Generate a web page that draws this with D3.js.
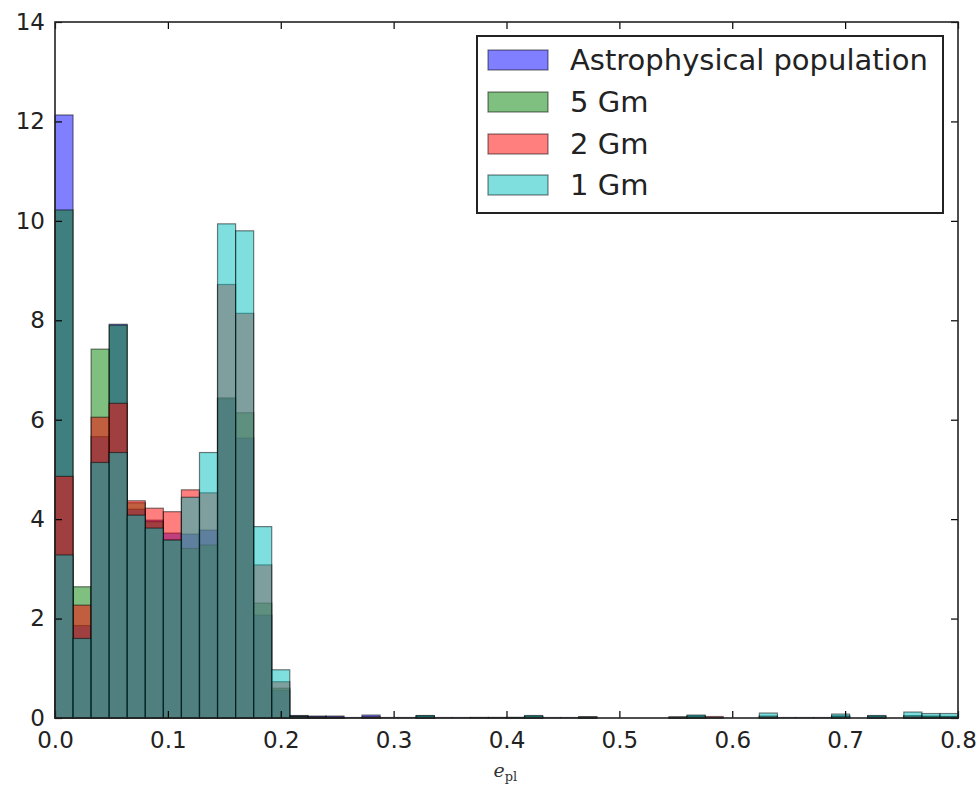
<!DOCTYPE html>
<html>
<head>
<meta charset="utf-8">
<script src="https://cdn.jsdelivr.net/npm/d3@7.9.0/dist/d3.min.js"></script>
<style>
  html, body { margin: 0; padding: 0; background: #fff; }
  svg { display: block; font-family: "DejaVu Sans", sans-serif; }
</style>
</head>
<body>
<svg id="chart" width="978" height="790"></svg>
<script>
// histogram, 50 bins of width 0.016 over [0, 0.8]
const binWidth = 0.016;
const seriesNames = ['Astrophysical population', '5 Gm', '2 Gm', '1 Gm'];
const seriesColors = ['#0000ff', '#008000', '#ff0000', '#00bfbf'];

const astro = [
  12.13, 1.86, 5.66, 7.92, 4.20, 3.98, 3.72, 3.70, 3.78, 6.42,
  5.63, 2.07, 0.56, 0.05, 0.04, 0.04, 0.01, 0.06, 0.01, 0.01,
  0.04, 0.01, 0.01, 0.01, 0.01, 0.01, 0.03, 0.01, 0.01, 0.02,
  0, 0, 0, 0, 0.02, 0.04, 0.01, 0, 0, 0.03,
  0.01, 0.01, 0.01, 0.04, 0, 0.04, 0, 0.04, 0.03, 0.03
];
const gm5 = [
  10.22, 2.64, 7.42, 7.90, 4.33, 3.95, 3.58, 3.41, 3.48, 6.44,
  6.14, 2.31, 0.60, 0.04, 0.02, 0.01, 0, 0.02, 0, 0,
  0.04, 0, 0, 0.01, 0, 0.01, 0.04, 0, 0, 0.02,
  0, 0, 0, 0, 0.01, 0.04, 0, 0, 0, 0.03,
  0, 0, 0, 0.04, 0, 0.03, 0, 0.04, 0.04, 0.03
];
const gm2 = [
  4.86, 2.27, 6.05, 6.33, 4.37, 4.22, 4.15, 4.59, 4.53, 8.72,
  8.14, 3.08, 0.73, 0.03, 0.02, 0.02, 0, 0.02, 0, 0,
  0.03, 0, 0, 0, 0.01, 0, 0.03, 0, 0, 0.01,
  0, 0, 0, 0, 0.01, 0.03, 0.03, 0, 0, 0.04,
  0, 0, 0, 0.03, 0, 0.03, 0, 0.04, 0.03, 0.03
];
const gm1 = [
  3.28, 1.60, 5.14, 5.34, 4.08, 3.82, 3.58, 4.44, 5.34, 9.94,
  9.80, 3.85, 0.97, 0.03, 0.01, 0.01, 0, 0, 0, 0,
  0.05, 0, 0, 0, 0, 0.01, 0.05, 0, 0, 0.02,
  0, 0, 0, 0, 0.02, 0.06, 0, 0, 0, 0.10,
  0, 0, 0, 0.08, 0, 0.05, 0, 0.12, 0.09, 0.09
];
const allSeries = [astro, gm5, gm2, gm1];

const xTicks = [0, 0.1, 0.2, 0.3, 0.4, 0.5, 0.6, 0.7, 0.8];
const yTicks = [0, 2, 4, 6, 8, 10, 12, 14];

const margin = { left: 55, right: 20, top: 22, bottom: 72 };
const width = 978, height = 790;

const svg = d3.select('#chart');

const x = d3.scaleLinear().domain([0, 0.8]).range([margin.left, width - margin.right]);
const y = d3.scaleLinear().domain([0, 14]).range([height - margin.bottom, margin.top]);

// bars, drawn in the same order as the legend
allSeries.forEach((values, s) => {
  svg.append('g')
    .selectAll('rect')
    .data(values)
    .join('rect')
    .attr('x', (d, i) => x(i * binWidth))
    .attr('width', (d, i) => x((i + 1) * binWidth) - x(i * binWidth))
    .attr('y', (d) => y(d))
    .attr('height', (d) => y(0) - y(d))
    .attr('fill', seriesColors[s])
    .attr('fill-opacity', 0.5)
    .attr('stroke', '#000')
    .attr('stroke-opacity', 0.5)
    .attr('stroke-width', 1.2);
});

// axes: classic style, ticks pointing inward on all four sides
const tickLen = 7;
const xBottom = d3.axisBottom(x).tickValues(xTicks).tickFormat(d3.format('.1f')).tickSizeInner(-tickLen).tickSizeOuter(0).tickPadding(14);
const xTop = d3.axisTop(x).tickValues(xTicks).tickFormat('').tickSizeInner(-tickLen).tickSizeOuter(0);
const yLeft = d3.axisLeft(y).tickValues(yTicks).tickFormat(d3.format('d')).tickSizeInner(-tickLen).tickSizeOuter(0).tickPadding(10);
const yRight = d3.axisRight(y).tickValues(yTicks).tickFormat('').tickSizeInner(-tickLen).tickSizeOuter(0);

function styleAxis(g) {
  g.select('.domain').remove();
  g.selectAll('.tick line').attr('stroke', '#000').attr('stroke-width', 1.2);
  g.selectAll('.tick text').attr('fill', '#222').attr('font-size', 23).attr('font-family', '"DejaVu Sans", sans-serif');
}

svg.append('g').attr('transform', `translate(0,${y(0)})`).call(xBottom).call(styleAxis);
svg.append('g').attr('transform', `translate(0,${y(14)})`).call(xTop).call(styleAxis);
svg.append('g').attr('transform', `translate(${x(0)},0)`).call(yLeft).call(styleAxis);
svg.append('g').attr('transform', `translate(${x(0.8)},0)`).call(yRight).call(styleAxis);

// frame
svg.append('rect')
  .attr('x', x(0)).attr('y', y(14))
  .attr('width', x(0.8) - x(0)).attr('height', y(0) - y(14))
  .attr('fill', 'none').attr('stroke', '#222').attr('stroke-width', 1.6);

// x label  e_pl
const xlabel = svg.append('text')
  .attr('x', (x(0) + x(0.8)) / 2 - 13)
  .attr('y', 777)
  .attr('fill', '#333')
  .attr('font-family', '"DejaVu Serif", "Liberation Serif", serif');
xlabel.append('tspan').attr('font-style', 'italic').attr('font-size', 19).text('e');
xlabel.append('tspan').attr('font-size', 13).attr('dy', 4).text('pl');

// legend
const legend = svg.append('g');
legend.append('rect')
  .attr('x', 477).attr('y', 36)
  .attr('width', 466).attr('height', 177)
  .attr('fill', '#fff').attr('stroke', '#222').attr('stroke-width', 2);

const rowY = [60, 102, 144, 185];
seriesNames.forEach((name, i) => {
  legend.append('rect')
    .attr('x', 488).attr('y', rowY[i] - 10)
    .attr('width', 60).attr('height', 20)
    .attr('fill', seriesColors[i]).attr('fill-opacity', 0.5)
    .attr('stroke', '#000').attr('stroke-opacity', 0.5).attr('stroke-width', 1.2);
  legend.append('text')
    .attr('x', 570).attr('y', rowY[i] + 10)
    .attr('font-size', 29)
    .attr('fill', '#222')
    .text(name);
});
</script>
</body>
</html>
